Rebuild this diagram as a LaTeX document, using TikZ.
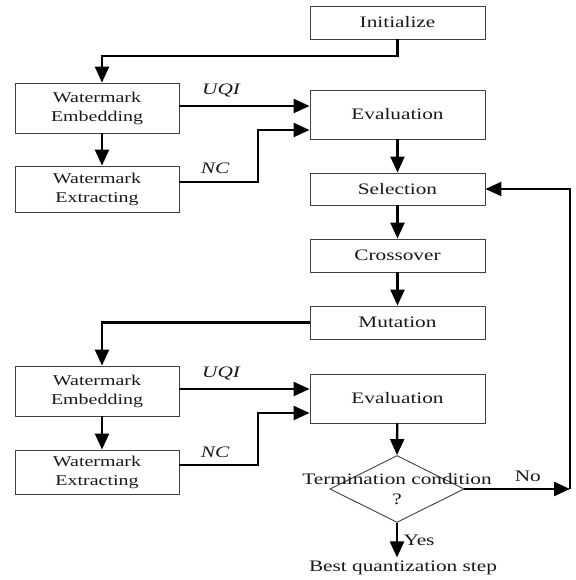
\documentclass[tikz,border=0pt]{standalone}
\usepackage{fontspec}
\setmainfont{Liberation Serif}[FakeStretch=1.33]
\usetikzlibrary{shapes.geometric,arrows.meta,calc,positioning}

\begin{document}
\begin{tikzpicture}[x=1pt,y=-1pt]
  \tikzset{
  box/.style={draw=black!75,line width=0.9pt,minimum width=175pt,inner sep=0pt,text=black!90,font=\fontsize{16}{19}\selectfont},
  wbox/.style={draw=black!75,line width=0.9pt,minimum width=164pt,inner sep=0pt,align=center,text=black!90,font=\fontsize{15}{19}\selectfont},
  cond/.style={diamond,draw=black!75,line width=0.9pt,minimum width=134pt,minimum height=67pt,inner sep=0pt},
  txt/.style={text=black!90,font=\fontsize{16}{19}\selectfont},
  lab/.style={text=black!90,font=\fontsize{16}{19}\selectfont\itshape},
  arr/.style={line width=2.4pt,-{Triangle[length=16pt,width=14pt]}},
  }
  \useasboundingbox (0,0) rectangle (575,580);
  % the main column
  \node[box,minimum height=33pt] (init)  at (397.5, 22.5) {Initialize};
  \node[box,minimum height=49pt] (eval1) at (397.5,114.5) {Evaluation};
  \node[box,minimum height=32pt] (sel)   at (397.5,189)   {Selection};
  \node[box,minimum height=33pt] (cross) at (397.5,255.5) {Crossover};
  \node[box,minimum height=33pt] (mut)   at (397.5,322.5) {Mutation};
  \node[box,minimum height=49pt] (eval2) at (397.5,398.5) {Evaluation};
  \node[cond] (dia) at (397,489) {};
  \node[txt,align=center] (diatxt) at (397,489) {Termination condition\\[1pt]?};
  \node[txt] (best) at (403,568) {Best quantization step};

  % the watermark boxes
  \node[wbox,minimum height=50pt] (we1) at (97,108) {Watermark\\Embedding};
  \node[wbox,minimum height=46pt] (wx1) at (97,189) {Watermark\\Extracting};
  \node[wbox,minimum height=50pt] (we2) at (97,391) {Watermark\\Embedding};
  \node[wbox,minimum height=44pt] (wx2) at (97,472) {Watermark\\Extracting};

  % corners of the connectors
  \coordinate (c1) at (102,56);
  \coordinate (c2) at (102,322.5);
  \coordinate (n1) at (258,130);
  \coordinate (n2) at (258,413);
  \coordinate (r1) at (570,489);

  % the connectors
  \draw[arr] (init.south) |- (c1) -- (c1 |- we1.north);
  \draw[arr] (c1 |- we1.south) -- (c1 |- wx1.north);
  \draw[arr] ([yshift=2pt]we1.east) -- ([yshift=2pt]we1.east -| eval1.west)
    node [lab, pos=0.32, above=4pt] {UQI};
  \draw[arr] ([yshift=7pt]wx1.east) -| (n1) -- (n1 -| eval1.west);
  \node[lab] (nc1) at (215,168) {NC};

  \draw[arr] (eval1) -- (sel);
  \draw[arr] (sel) -- (cross);
  \draw[arr] (cross) -- (mut);
  \draw[arr] (mut.west) -- (c2) -- (c2 |- we2.north);
  \draw[arr] (c2 |- we2.south) -- (c2 |- wx2.north);
  \draw[arr] ([yshift=2pt]we2.east) -- ([yshift=2pt]we2.east -| eval2.west)
    node [lab, pos=0.32, above=4pt] {UQI};
  \draw[arr] ([yshift=7pt]wx2.east) -| (n2) -- (n2 -| eval2.west);
  \node[lab] (nc2) at (215,452) {NC};

  \draw[arr] (eval2) -- (dia.north);
  \draw[arr] (dia.east) -- (r1) node [txt, pos=0.6, above=3pt] {No};
  \draw[arr] (r1) |- (sel.east);
  \draw[arr] (dia.south) -- (dia.south |- best.north) node [txt, midway, right=2pt] {Yes};
\end{tikzpicture}
\end{document}
